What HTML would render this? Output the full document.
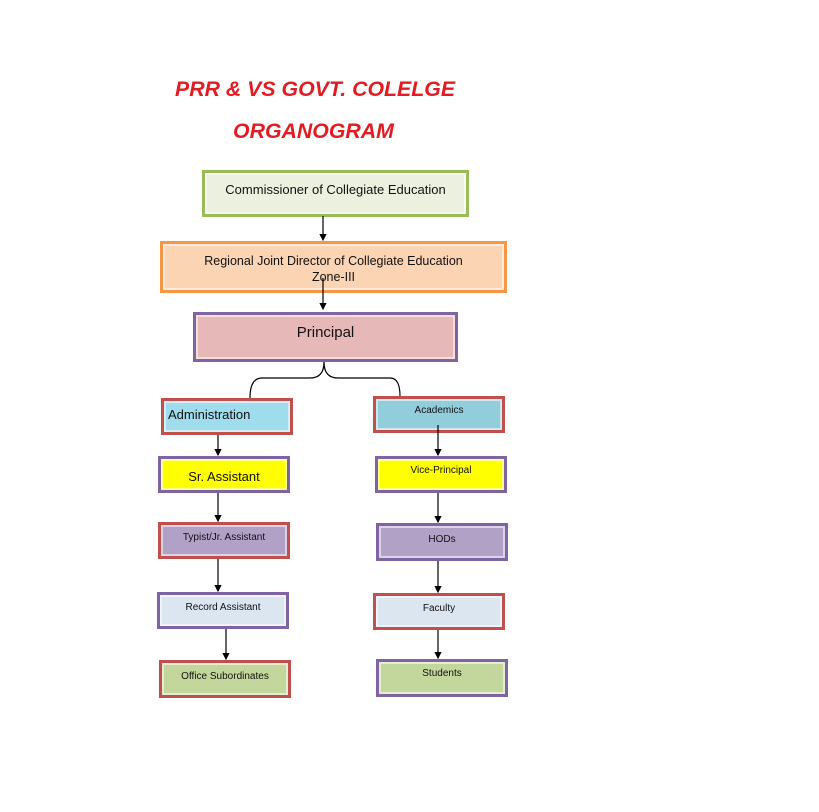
<!DOCTYPE html>
<html><head><style>
body{margin:0;width:819px;height:812px;background:#fff;position:relative;overflow:hidden;font-family:"Liberation Sans",sans-serif}
.b{position:absolute;box-sizing:border-box;border:3px solid;display:flex;justify-content:center;font-size:10px;color:#111;box-shadow:inset 0 0 0 2px rgba(255,255,255,.55)}
.t{position:absolute;color:#e31b23;font-weight:bold;font-style:italic;font-size:21.3px;letter-spacing:0}
svg{position:absolute;left:0;top:0}
</style></head><body>
<div class="t" style="left:175px;top:77px">PRR &amp; VS GOVT. COLELGE</div>
<div class="t" style="left:233px;top:119px">ORGANOGRAM</div>

<div class="b" style="left:202px;top:170px;width:267px;height:47px;border-color:#9bbb59;background:#ebf1de;font-size:13px;padding-top:9px">Commissioner of Collegiate Education</div>
<div class="b" style="left:160px;top:241px;width:347px;height:52px;border-color:#f79646;background:#fbd4b4;font-size:12.5px;padding-top:9px;text-align:center;line-height:16px">Regional Joint Director of Collegiate Education<br>Zone-III</div>
<div class="b" style="left:193px;top:312px;width:265px;height:50px;border-color:#8064a2;background:#e6b9b8;font-size:15px;padding-top:9px">Principal</div>

<div class="b" style="left:161px;top:398px;width:132px;height:37px;border-color:#c0504d;background:#9fdcec;font-size:13px;justify-content:flex-start;padding-left:4px;padding-top:6px">Administration</div>
<div class="b" style="left:158px;top:456px;width:132px;height:37px;border-color:#8064a2;background:#ffff00;font-size:13px;padding-top:10px">Sr. Assistant</div>
<div class="b" style="left:158px;top:522px;width:132px;height:37px;border-color:#c0504d;background:#b2a1c7;padding-top:7px">Typist/Jr. Assistant</div>
<div class="b" style="left:157px;top:592px;width:132px;height:37px;border-color:#8064a2;background:#dce6f1;padding-top:7px">Record Assistant</div>
<div class="b" style="left:159px;top:660px;width:132px;height:38px;border-color:#c0504d;background:#c3d69b;padding-top:8px">Office Subordinates</div>

<div class="b" style="left:373px;top:396px;width:132px;height:37px;border-color:#c0504d;background:#92cddc;padding-top:6px">Academics</div>
<div class="b" style="left:375px;top:456px;width:132px;height:37px;border-color:#8064a2;background:#ffff00;padding-top:6px">Vice-Principal</div>
<div class="b" style="left:376px;top:523px;width:132px;height:38px;border-color:#8064a2;background:#b2a1c7;padding-top:8px">HODs</div>
<div class="b" style="left:373px;top:593px;width:132px;height:37px;border-color:#c0504d;background:#dce6f1;padding-top:7px">Faculty</div>
<div class="b" style="left:376px;top:659px;width:132px;height:38px;border-color:#8064a2;background:#c3d69b;padding-top:6px">Students</div>

<svg width="819" height="812">
<defs><marker id="a" markerWidth="6" markerHeight="6" refX="5" refY="3" orient="auto"><path d="M0,0L6,3L0,6z" fill="#000"/></marker></defs>
<g stroke="#000" stroke-width="1.2" fill="none">
<line x1="323" y1="216" x2="323" y2="240" marker-end="url(#a)"/>
<line x1="323" y1="278" x2="323" y2="309" marker-end="url(#a)"/>
<path d="M324 362 Q324 378 310 378 L262 378 Q250 378 250 398"/>
<path d="M324 362 Q324 378 338 378 L390 378 Q400 378 400 396"/>
<line x1="218" y1="435" x2="218" y2="455" marker-end="url(#a)"/>
<line x1="218" y1="493" x2="218" y2="521" marker-end="url(#a)"/>
<line x1="218" y1="559" x2="218" y2="591" marker-end="url(#a)"/>
<line x1="226" y1="629" x2="226" y2="659" marker-end="url(#a)"/>
<line x1="438" y1="425" x2="438" y2="455" marker-end="url(#a)"/>
<line x1="438" y1="493" x2="438" y2="522" marker-end="url(#a)"/>
<line x1="438" y1="561" x2="438" y2="592" marker-end="url(#a)"/>
<line x1="438" y1="630" x2="438" y2="658" marker-end="url(#a)"/>
</g></svg>
</body></html>
